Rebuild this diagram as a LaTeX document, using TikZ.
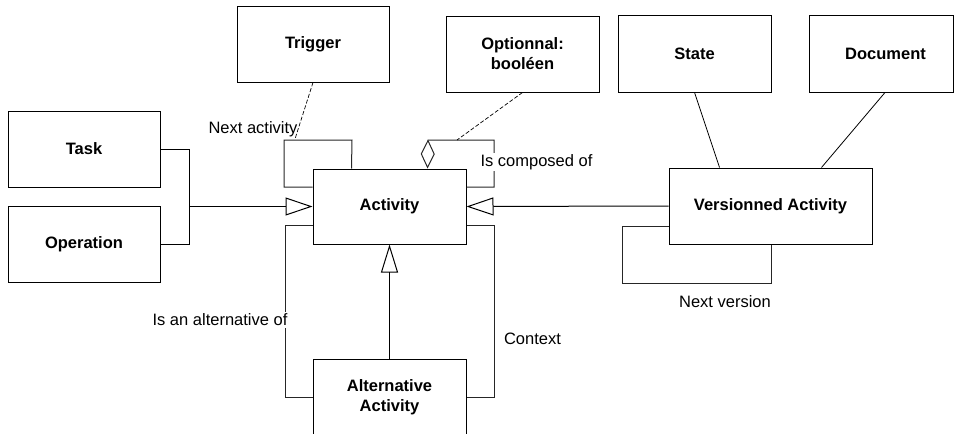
\documentclass[tikz,border=0pt]{standalone}
\usepackage{fontspec}
\setmainfont{Liberation Sans}
\usetikzlibrary{arrows.meta}
\begin{document}
\begin{tikzpicture}[x=1pt,y=-1pt,line width=1pt,
  box/.style={draw,inner sep=0pt,align=center,font=\fontsize{16.5}{20}\selectfont\bfseries},
  lbl/.style={inner sep=1.5pt,font=\fontsize{16.5}{20}\selectfont},
  wlbl/.style={lbl,fill=white},
  loopline/.style={draw=black!85},
  gen/.style={-{Triangle[open,length=27pt,width=18pt]}},
  dashline/.style={dashed,dash pattern=on 4pt off 2pt,line width=0.7pt}]
\useasboundingbox (0,0) rectangle (954,434);
\clip (0,0) rectangle (954,434);

% boxes
\node[box,minimum width=152,minimum height=76] (task) at (84,149) {Task};
\node[box,minimum width=152,minimum height=76] (op) at (84,244) {Operation};
\node[box,minimum width=152,minimum height=76] (trig) at (313,44) {Trigger};
\node[box,minimum width=153,minimum height=76] (opt) at (522.5,54) {Optionnal:\\booléen};
\node[box,minimum width=153,minimum height=77] (state) at (694.5,53.5) {State};
\node[box,minimum width=144,minimum height=77] (doc) at (881,53.5) {\hspace*{9pt}Document};
\node[box,minimum width=153,minimum height=75] (act) at (389.5,206.5) {Activity};
\node[box,minimum width=153,minimum height=76] (alt) at (389.5,397) {Alternative\\Activity};
\node[box,minimum width=203,minimum height=76] (ver) at (770.5,206) {Versionned Activity};

% generalisations
\coordinate (j) at (189,206.5);
\draw (task.east) -| (j);
\draw (op.east) -| (j);
\draw[gen] (j) -- (act.west);
\draw[gen] (ver.west) -- (act.east);
\draw[-{Triangle[open,length=28pt,width=17pt]}] (alt.north) -- (act.south);

% associations to State / Document
\draw[line width=0.8pt] (state.south) -- ([xshift=51pt]ver.north west);
\draw[line width=0.8pt] ([xshift=4pt]doc.south) -- ([xshift=153pt]ver.north west);

% Next activity self loop
\coordinate (na1) at (352,140);
\coordinate (na2) at (284,140);
\coordinate (na3) at (284,187);
\draw[loopline] ([xshift=39pt]act.north west) -- (na1) -- (na2) -- (na3) -- (na3 -| act.west);
\coordinate (trigend) at (295,139);
\draw[dashline] (trig.south) -- (trigend);
\node[lbl] (lna) at (253,129) {Next activity};

% composition self loop
\coordinate (cp1) at (428,140);
\coordinate (cp2) at (494,140);
\coordinate (cp3) at (494,187);
\draw[loopline,{Diamond[open,length=29pt,width=14pt]}-] ([xshift=115pt]act.north west) -- (cp1) -- (cp2) -- (cp3) -- (cp3 -| act.east);
\coordinate (optend) at (457,140);
\draw[dashline] (opt.south) -- (optend);
\node[wlbl] (lcomp) at (536.5,162) {Is composed of};

% alternative loop
\coordinate (al1) at (285,225);
\coordinate (al2) at (285,397);
\draw[loopline] (al1 -| act.west) -- (al1) -- (al2) -- (alt.west);
\node[wlbl] (lalt) at (220,320) {Is an alternative of};

% context loop
\coordinate (cx1) at (494,225);
\coordinate (cx2) at (494,397);
\draw[loopline] (cx1 -| act.east) -- (cx1) -- (cx2) -- (alt.east);
\node[lbl] (lctx) at (532.5,339) {Context};

% next version loop
\coordinate (nv1) at (622,226);
\coordinate (nv2) at (622,283);
\coordinate (nv3) at (771,283);
\draw[loopline] (nv1 -| ver.west) -- (nv1) -- (nv2) -- (nv3) -- (nv3 |- ver.south);
\node[lbl] (lnv) at (725,302) {Next version};
\end{tikzpicture}
\end{document}
